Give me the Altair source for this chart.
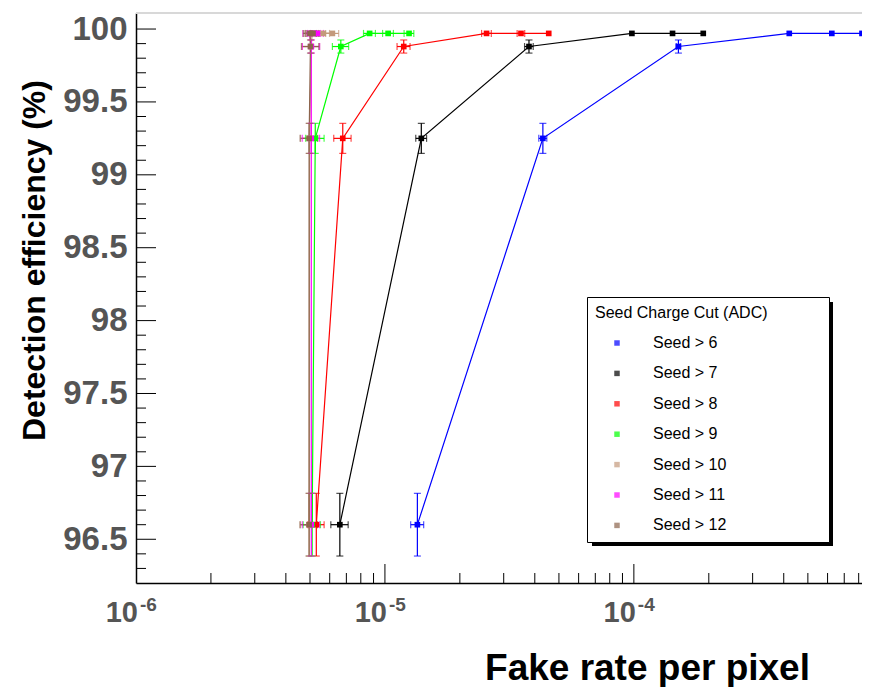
import altair as alt
import pandas as pd

# ---------------- data ----------------
series = ["Seed > 6", "Seed > 7", "Seed > 8", "Seed > 9", "Seed > 10", "Seed > 11", "Seed > 12"]
colors = ["#0000ff", "#000000", "#ff0000", "#00ff00", "#c49a7c", "#ff00ff", "#8c644c"]

efficiency = [96.60, 99.25, 99.88, 99.97, 99.97, 99.97]
efficiency_err = [0.215, 0.103, 0.045, 0.0, 0.0, 0.0]

fake_seed6 = [1.35e-5, 4.31e-5, 1.51e-4, 4.21e-4, 6.24e-4, 8.25e-4]
fake_seed7 = [6.59e-6, 1.40e-5, 3.79e-5, 9.82e-5, 1.43e-4, 1.90e-4]
fake_seed8 = [5.30e-6, 6.77e-6, 1.19e-5, 2.56e-5, 3.52e-5, 4.55e-5]
fake_seed9 = [5.10e-6, 5.25e-6, 6.65e-6, 8.68e-6, 1.03e-5, 1.25e-5]
fake_seed10 = [4.96e-6, 4.98e-6, 5.06e-6, 5.10e-6, 5.65e-6, 6.15e-6]
fake_seed11 = [5.06e-6, 5.06e-6, 5.06e-6, 4.98e-6, 5.20e-6, 5.34e-6]
fake_seed12 = [4.96e-6, 4.96e-6, 5.02e-6, 5.00e-6, 5.08e-6, 5.14e-6]

# relative horizontal error of each fake-rate point
ferr_seed6 = [0.060, 0.037, 0.020, 0.0, 0.0, 0.0]
ferr_seed7 = [0.080, 0.050, 0.040, 0.0, 0.0, 0.0]
ferr_seed8 = [0.075, 0.080, 0.060, 0.045, 0.035, 0.0]
ferr_seed9 = [0.080, 0.085, 0.075, 0.055, 0.050, 0.045]
ferr_seed10 = [0.080, 0.080, 0.080, 0.060, 0.060, 0.060]
ferr_seed11 = [0.080, 0.080, 0.080, 0.060, 0.060, 0.060]
ferr_seed12 = [0.080, 0.080, 0.080, 0.060, 0.060, 0.060]

fake_lists = [fake_seed6, fake_seed7, fake_seed8, fake_seed9, fake_seed10, fake_seed11, fake_seed12]
ferr_lists = [ferr_seed6, ferr_seed7, ferr_seed8, ferr_seed9, ferr_seed10, ferr_seed11, ferr_seed12]

y_major = [96.5, 97.0, 97.5, 98.0, 98.5, 99.0, 99.5, 100.0]
y_minor = [96.3, 96.4, 96.6, 96.7, 96.8, 96.9, 97.1, 97.2, 97.3, 97.4, 97.6, 97.7, 97.8, 97.9,
           98.1, 98.2, 98.3, 98.4, 98.6, 98.7, 98.8, 98.9, 99.1, 99.2, 99.3, 99.4,
           99.6, 99.7, 99.8, 99.9]
x_labels = [1e-6, 1e-5, 1e-4]
x_label_base = ["10", "10", "10"]
x_label_exp = ["-6", "-5", "-4"]
x_major = [1e-5, 1e-4]
x_minor = [2e-6, 3e-6, 4e-6, 5e-6, 6e-6, 7e-6, 8e-6, 9e-6,
           2e-5, 3e-5, 4e-5, 5e-5, 6e-5, 7e-5, 8e-5, 9e-5,
           2e-4, 3e-4, 4e-4, 5e-4, 6e-4, 7e-4, 8e-4]

# ---------------- table ----------------
rows = []
for s, xs, es in zip(series, fake_lists, ferr_lists):
    for i, (xv, ev, yv, yev) in enumerate(zip(xs, es, efficiency, efficiency_err)):
        rows.append(dict(series=s, idx=i, x=xv, y=yv,
                         xlo=xv * (1 - ev), xhi=xv * (1 + ev), xe=ev,
                         ylo=yv - yev, yhi=yv + yev, ye=yev))
df = pd.DataFrame(rows)
lab_df = pd.DataFrame({"v": x_labels, "base": x_label_base, "exp": x_label_exp})

W, H = 726, 570
FONT = "Liberation Sans"

x_scale = alt.Scale(type="log", domain=[1e-6, 8.25e-4], nice=False)
y_scale = alt.Scale(domain=[96.2, 100.11], nice=False, zero=False)

x_axis = alt.Axis(
    title="Fake rate per pixel", values=x_labels, labels=False,
    ticks=False, tickSize=0, grid=False, domainColor="black", domainWidth=1.5,
    titleFont=FONT, titleFontSize=37, titleFontWeight="bold", titleColor="black",
    titleX=511, titleY=96, titleAlign="center", titleBaseline="alphabetic",
)
y_axis = alt.Axis(
    title="Detection efficiency (%)", values=y_major, format="~g",
    ticks=False, tickSize=0, grid=False, domainColor="black", domainWidth=1.5,
    labelFont=FONT, labelFontWeight="bold", labelFontSize=33, labelColor="#555555",
    labelPadding=9, labelFlush=False, labelOverlap=False,
    titleFont=FONT, titleFontSize=32, titleFontWeight="bold", titleColor="black",
    titleX=-92, titleY=247, titleAlign="center", titleBaseline="alphabetic", titleAngle=-90,
)

nbsp = "\u00a0"
legend_def = alt.Legend(
    orient="none", legendX=451, legendY=284,
    title="Seed Charge Cut (ADC)" + nbsp * 12 + "\u200b", titleLimit=400,
    titleFont=FONT, titleFontSize=16, titleFontWeight="normal", titleColor="black",
    titlePadding=14, labelFont=FONT, labelFontSize=16, labelColor="black",
    symbolType="square", symbolSize=30, symbolOffset=14, labelOffset=28,
    symbolStrokeWidth=0, rowPadding=14.4, padding=8,
    fillColor="white", strokeColor="black",
)
color_enc = alt.Color("series:N", scale=alt.Scale(domain=series, range=colors), legend=legend_def)

X = lambda f: alt.X(f, type="quantitative", scale=x_scale, axis=x_axis)
Y = lambda f: alt.Y(f, type="quantitative", scale=y_scale, axis=y_axis)

one = pd.DataFrame({"k": [0]})

shadow = alt.Chart(one).mark_rect(color="black").encode(
    x=alt.value(456), x2=alt.value(697), y=alt.value(289), y2=alt.value(533))
top_line = alt.Chart(one).mark_rule(color="#d8d8d8", strokeWidth=2).encode(
    x=alt.value(0), x2=alt.value(W), y=alt.value(0))

base = alt.Chart(df)
points = base.mark_point(shape="square", filled=True, size=32, opacity=1).encode(
    x=X("x"), y=Y("y"), color=color_enc)
lines = base.mark_line(strokeWidth=1.2).encode(
    x=X("x"), y=Y("y"), color=color_enc, order="idx:Q")
xerr = base.mark_rule(strokeWidth=1.2).transform_filter("datum.xe > 0").encode(
    x=X("xlo"), x2="xhi", y=Y("y"), color=color_enc)
yerr = base.mark_rule(strokeWidth=1.2).transform_filter("datum.ye > 0").encode(
    x=X("x"), y=Y("ylo"), y2="yhi", color=color_enc)
ycap_lo = base.mark_tick(orient="horizontal", size=7, thickness=1.2).transform_filter("datum.ye > 0").encode(
    x=X("x"), y=Y("ylo"), color=color_enc)
ycap_hi = base.mark_tick(orient="horizontal", size=7, thickness=1.2).transform_filter("datum.ye > 0").encode(
    x=X("x"), y=Y("yhi"), color=color_enc)
xcap_lo = base.mark_tick(orient="vertical", size=7, thickness=1.2).transform_filter("datum.xe > 0").encode(
    x=X("xlo"), y=Y("y"), color=color_enc)
xcap_hi = base.mark_tick(orient="vertical", size=7, thickness=1.2).transform_filter("datum.xe > 0").encode(
    x=X("xhi"), y=Y("y"), color=color_enc)

ytick_major = alt.Chart(pd.DataFrame({"v": y_major})).mark_rule(color="black", strokeWidth=1).encode(
    y=Y("v"), x=alt.value(0), x2=alt.value(20))
ytick_minor = alt.Chart(pd.DataFrame({"v": y_minor})).mark_rule(color="black", strokeWidth=1).encode(
    y=Y("v"), x=alt.value(0), x2=alt.value(10))
xtick_major = alt.Chart(pd.DataFrame({"v": x_major})).mark_rule(color="black", strokeWidth=1).encode(
    x=X("v"), y=alt.value(H), y2=alt.value(H - 19))
xtick_minor = alt.Chart(pd.DataFrame({"v": x_minor})).mark_rule(color="black", strokeWidth=1).encode(
    x=X("v"), y=alt.value(H), y2=alt.value(H - 10))

xlab_base = alt.Chart(lab_df).mark_text(
    font=FONT, fontWeight="bold", fontSize=29, color="#555555",
    align="right", baseline="alphabetic", dx=2,
).encode(x=X("v"), y=alt.value(H + 39), text="base:N")
xlab_exp = alt.Chart(lab_df).mark_text(
    font=FONT, fontWeight="bold", fontSize=19, color="#555555",
    align="left", baseline="alphabetic", dx=4,
).encode(x=X("v"), y=alt.value(H + 28), text="exp:N")

chart = alt.layer(
    shadow, top_line, lines, xerr, yerr, ycap_lo, ycap_hi, xcap_lo, xcap_hi, points,
    ytick_major, ytick_minor, xtick_major, xtick_minor, xlab_base, xlab_exp,
).properties(
    width=W, height=H,
    autosize=alt.AutoSizeParams(type="none"),
    padding={"left": 128, "top": 5, "right": 0, "bottom": 104},
    background="white",
).configure_view(stroke=None)

chart.save("out.html", embed_options={"renderer": "svg", "actions": False})
